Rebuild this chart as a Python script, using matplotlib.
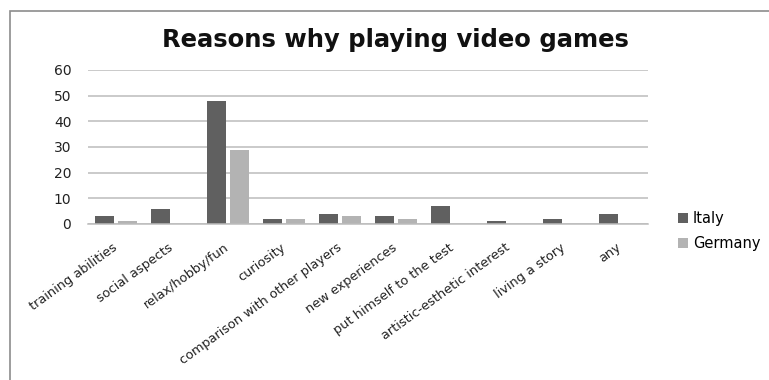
import matplotlib
matplotlib.use("Agg")
import matplotlib.pyplot as plt
from matplotlib.patches import Rectangle
import numpy as np

categories = ["training abilities", "social aspects", "relax/hobby/fun", "curiosity",
              "comparison with other players", "new experiences", "put himself to the test",
              "artistic-esthetic interest", "living a story", "any"]
italy = [3, 6, 48, 2, 4, 3, 7, 1, 2, 4]
germany = [1, 0, 29, 2, 3, 2, 0, 0, 0, 0]
yticks = [0, 10, 20, 30, 40, 50, 60]

plt.rcParams['font.family'] = ['DejaVu Sans']

W, H = 769, 380
fig = plt.figure(figsize=(W / 100, H / 100), dpi=100)

# outer chart frame
fig.patches.append(Rectangle((10 / W, -0.2), 1.2, 1 - 11 / H + 0.2,
                             transform=fig.transFigure, fill=False,
                             edgecolor="#8c8c8c", linewidth=1.2))

ax = fig.add_axes([88 / W, 1 - 224 / H, (648 - 88) / W, (224 - 70) / H])
x = np.arange(len(categories))
bw = 0.34
ax.bar(x - 0.21, italy, bw, color="#606060", label="Italy")
ax.bar(x + 0.21, germany, bw, color="#b3b3b3", label="Germany")

ax.set_xlim(-0.5, len(categories) - 0.5)
ax.set_ylim(0, 60)
ax.set_yticks(yticks)
ax.yaxis.grid(True, color="#bcbcbc", linewidth=1.1)
ax.set_axisbelow(True)
for s in ["top", "right", "left"]:
    ax.spines[s].set_visible(False)
ax.spines["bottom"].set_color("#bcbcbc")
ax.spines["bottom"].set_linewidth(1.1)
ax.tick_params(length=0)
ax.tick_params(axis="y", labelsize=10, pad=12, labelcolor="#222222")
ax.set_xticks(x)
ax.set_xticklabels(categories, rotation=36, ha="right", va="center",
                   rotation_mode="anchor", fontsize=9.3, color="#222222")
ax.tick_params(axis="x", pad=16)

fig.text(395 / W, 1 - 40 / H, "Reasons why playing video games", ha="center",
         va="center", fontsize=17.5, fontweight="bold", color="#111111")

ax.legend(loc="upper left", bbox_to_anchor=(665 / W, 1 - 198 / H),
          bbox_transform=fig.transFigure, frameon=False, fontsize=10.5,
          handlelength=0.7, handleheight=0.7, handletextpad=0.3, labelspacing=0.7)

fig.savefig("out.png", dpi=100)
